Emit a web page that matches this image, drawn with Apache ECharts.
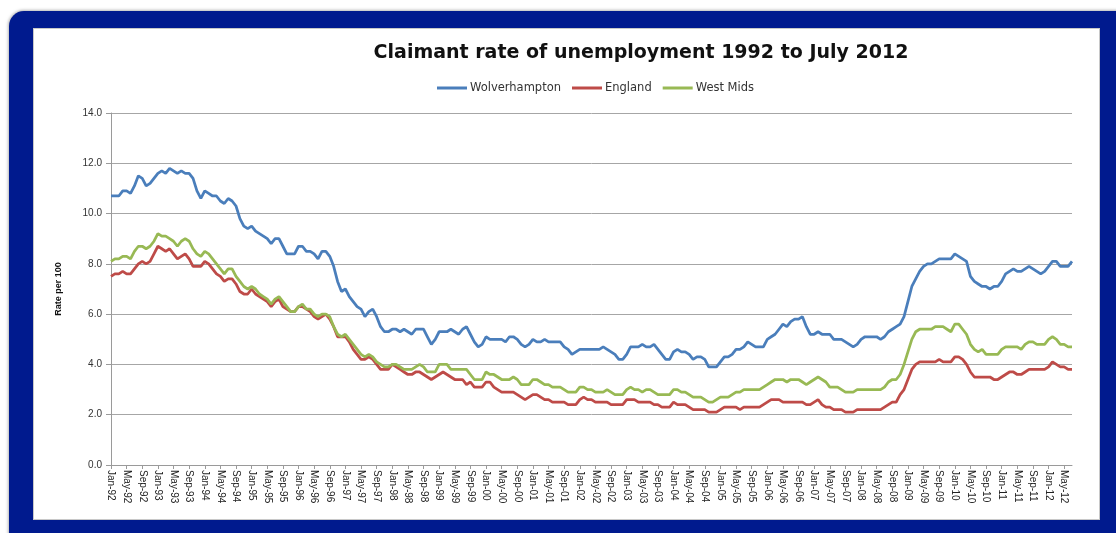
<!DOCTYPE html>
<html>
<head>
<meta charset="utf-8">
<script src="https://cdn.jsdelivr.net/npm/echarts@6/dist/echarts.min.js"></script>
<style>
  html, body { margin: 0; padding: 0; background: #ffffff; width: 1116px; height: 533px; overflow: hidden; }
  #frame {
    position: absolute; left: 9px; top: 11px; width: 1130px; height: 540px;
    background: #001a8e; border-radius: 15px;
    box-shadow: 0 0 3px 1px rgba(120,120,120,0.55);
  }
  #panel {
    position: absolute; left: 33px; top: 28px; width: 1067px; height: 492px;
    background: #ffffff; border: 1px solid #c8c8c8; box-sizing: border-box;
  }
  #chart { position: absolute; left: 0; top: 0; width: 1116px; height: 533px; }
</style>
</head>
<body>
<div id="frame"></div>
<div id="panel"></div>
<div id="chart"></div>
<script>
// Monthly claimant rate (per 100), January 1992 to July 2012
const monthNames = ['Jan','Feb','Mar','Apr','May','Jun','Jul','Aug','Sep','Oct','Nov','Dec'];
const categories = [];
for (let y = 1992; y <= 2012; y++) {
  for (let m = 0; m < 12; m++) {
    if (y === 2012 && m > 6) break;
    categories.push(monthNames[m] + '-' + String(y).slice(2));
  }
}

const yTicks = [0, 2, 4, 6, 8, 10, 12, 14];

const wolverhampton = [
  10.7,10.7,10.7,10.9,10.9,10.8,11.1,11.5,11.4,11.1,11.2,11.4,
  11.6,11.7,11.6,11.8,11.7,11.6,11.7,11.6,11.6,11.4,10.9,10.6,
  10.9,10.8,10.7,10.7,10.5,10.4,10.6,10.5,10.3,9.8,9.5,9.4,
  9.5,9.3,9.2,9.1,9.0,8.8,9.0,9.0,8.7,8.4,8.4,8.4,
  8.7,8.7,8.5,8.5,8.4,8.2,8.5,8.5,8.3,7.9,7.3,6.9,
  7.0,6.7,6.5,6.3,6.2,5.9,6.1,6.2,5.9,5.5,5.3,5.3,
  5.4,5.4,5.3,5.4,5.3,5.2,5.4,5.4,5.4,5.1,4.8,5.0,
  5.3,5.3,5.3,5.4,5.3,5.2,5.4,5.5,5.2,4.9,4.7,4.8,
  5.1,5.0,5.0,5.0,5.0,4.9,5.1,5.1,5.0,4.8,4.7,4.8,
  5.0,4.9,4.9,5.0,4.9,4.9,4.9,4.9,4.7,4.6,4.4,4.5,
  4.6,4.6,4.6,4.6,4.6,4.6,4.7,4.6,4.5,4.4,4.2,4.2,
  4.4,4.7,4.7,4.7,4.8,4.7,4.7,4.8,4.6,4.4,4.2,4.2,
  4.5,4.6,4.5,4.5,4.4,4.2,4.3,4.3,4.2,3.9,3.9,3.9,
  4.1,4.3,4.3,4.4,4.6,4.6,4.7,4.9,4.8,4.7,4.7,4.7,
  5.0,5.1,5.2,5.4,5.6,5.5,5.7,5.8,5.8,5.9,5.5,5.2,
  5.2,5.3,5.2,5.2,5.2,5.0,5.0,5.0,4.9,4.8,4.7,4.8,
  5.0,5.1,5.1,5.1,5.1,5.0,5.1,5.3,5.4,5.5,5.6,5.9,
  6.5,7.1,7.4,7.7,7.9,8.0,8.0,8.1,8.2,8.2,8.2,8.2,
  8.4,8.3,8.2,8.1,7.5,7.3,7.2,7.1,7.1,7.0,7.1,7.1,
  7.3,7.6,7.7,7.8,7.7,7.7,7.8,7.9,7.8,7.7,7.6,7.7,
  7.9,8.1,8.1,7.9,7.9,7.9,8.1
];

const england = [
  7.5,7.6,7.6,7.7,7.6,7.6,7.8,8.0,8.1,8.0,8.1,8.4,
  8.7,8.6,8.5,8.6,8.4,8.2,8.3,8.4,8.2,7.9,7.9,7.9,
  8.1,8.0,7.8,7.6,7.5,7.3,7.4,7.4,7.2,6.9,6.8,6.8,
  7.0,6.8,6.7,6.6,6.5,6.3,6.5,6.6,6.3,6.2,6.1,6.1,
  6.3,6.3,6.2,6.1,5.9,5.8,5.9,6.0,5.8,5.5,5.1,5.1,
  5.1,4.9,4.6,4.4,4.2,4.2,4.3,4.2,4.0,3.8,3.8,3.8,
  4.0,3.9,3.8,3.7,3.6,3.6,3.7,3.7,3.6,3.5,3.4,3.5,
  3.6,3.7,3.6,3.5,3.4,3.4,3.4,3.2,3.3,3.1,3.1,3.1,
  3.3,3.3,3.1,3.0,2.9,2.9,2.9,2.9,2.8,2.7,2.6,2.7,
  2.8,2.8,2.7,2.6,2.6,2.5,2.5,2.5,2.5,2.4,2.4,2.4,
  2.6,2.7,2.6,2.6,2.5,2.5,2.5,2.5,2.4,2.4,2.4,2.4,
  2.6,2.6,2.6,2.5,2.5,2.5,2.5,2.4,2.4,2.3,2.3,2.3,
  2.5,2.4,2.4,2.4,2.3,2.2,2.2,2.2,2.2,2.1,2.1,2.1,
  2.2,2.3,2.3,2.3,2.3,2.2,2.3,2.3,2.3,2.3,2.3,2.4,
  2.5,2.6,2.6,2.6,2.5,2.5,2.5,2.5,2.5,2.5,2.4,2.4,
  2.5,2.6,2.4,2.3,2.3,2.2,2.2,2.2,2.1,2.1,2.1,2.2,
  2.2,2.2,2.2,2.2,2.2,2.2,2.3,2.4,2.5,2.5,2.8,3.0,
  3.4,3.8,4.0,4.1,4.1,4.1,4.1,4.1,4.2,4.1,4.1,4.1,
  4.3,4.3,4.2,4.0,3.7,3.5,3.5,3.5,3.5,3.5,3.4,3.4,
  3.5,3.6,3.7,3.7,3.6,3.6,3.7,3.8,3.8,3.8,3.8,3.8,
  3.9,4.1,4.0,3.9,3.9,3.8,3.8
];

const westMids = [
  8.1,8.2,8.2,8.3,8.3,8.2,8.5,8.7,8.7,8.6,8.7,8.9,
  9.2,9.1,9.1,9.0,8.9,8.7,8.9,9.0,8.9,8.6,8.4,8.3,
  8.5,8.4,8.2,8.0,7.8,7.6,7.8,7.8,7.5,7.3,7.1,7.0,
  7.1,7.0,6.8,6.7,6.6,6.4,6.6,6.7,6.5,6.3,6.1,6.1,
  6.3,6.4,6.2,6.2,6.0,5.9,6.0,6.0,5.9,5.5,5.2,5.1,
  5.2,5.0,4.8,4.6,4.4,4.3,4.4,4.3,4.1,4.0,3.9,3.9,
  4.0,4.0,3.9,3.8,3.8,3.8,3.9,4.0,3.9,3.7,3.7,3.7,
  4.0,4.0,4.0,3.8,3.8,3.8,3.8,3.8,3.6,3.4,3.4,3.4,
  3.7,3.6,3.6,3.5,3.4,3.4,3.4,3.5,3.4,3.2,3.2,3.2,
  3.4,3.4,3.3,3.2,3.2,3.1,3.1,3.1,3.0,2.9,2.9,2.9,
  3.1,3.1,3.0,3.0,2.9,2.9,2.9,3.0,2.9,2.8,2.8,2.8,
  3.0,3.1,3.0,3.0,2.9,3.0,3.0,2.9,2.8,2.8,2.8,2.8,
  3.0,3.0,2.9,2.9,2.8,2.7,2.7,2.7,2.6,2.5,2.5,2.6,
  2.7,2.7,2.7,2.8,2.9,2.9,3.0,3.0,3.0,3.0,3.0,3.1,
  3.2,3.3,3.4,3.4,3.4,3.3,3.4,3.4,3.4,3.3,3.2,3.3,
  3.4,3.5,3.4,3.3,3.1,3.1,3.1,3.0,2.9,2.9,2.9,3.0,
  3.0,3.0,3.0,3.0,3.0,3.0,3.1,3.3,3.4,3.4,3.6,4.0,
  4.5,5.0,5.3,5.4,5.4,5.4,5.4,5.5,5.5,5.5,5.4,5.3,
  5.6,5.6,5.4,5.2,4.8,4.6,4.5,4.6,4.4,4.4,4.4,4.4,
  4.6,4.7,4.7,4.7,4.7,4.6,4.8,4.9,4.9,4.8,4.8,4.8,
  5.0,5.1,5.0,4.8,4.8,4.7,4.7
];

const seriesNames = ['Wolverhampton', 'England', 'West Mids'];
const seriesColors = ['#4a7ebb', '#be4b48', '#98b954'];
const seriesData = [wolverhampton, england, westMids];

const chart = echarts.init(document.getElementById('chart'), null, { renderer: 'canvas' });

const baseFont = 'Liberation Sans, Arial, sans-serif';

chart.setOption({
  animation: false,
  title: {
    text: 'Claimant rate of unemployment 1992 to July 2012',
    left: 636,
    textAlign: 'center',
    top: 39,
    textStyle: { fontFamily: 'DejaVu Sans, sans-serif', fontWeight: 'bold', fontSize: 19, color: '#111111' }
  },
  legend: {
    top: 77,
    left: 432,
    data: seriesNames,
    icon: 'rect',
    itemWidth: 30,
    itemHeight: 3,
    itemGap: 11,
    textStyle: { fontFamily: 'DejaVu Sans, sans-serif', fontSize: 11.5, color: '#333333', padding: [0, 0, 0, -2] }
  },
  grid: { left: 111, right: 44, top: 113, bottom: 68, containLabel: false },
  xAxis: {
    type: 'category',
    data: categories,
    boundaryGap: false,
    axisLine: { lineStyle: { color: '#9a9a9a', width: 1 } },
    axisTick: { show: true, interval: 3, length: 4, lineStyle: { color: '#9a9a9a' } },
    axisLabel: {
      interval: 3, rotate: -90, margin: 5,
      fontFamily: baseFont, fontSize: 10, color: '#222222'
    },
    splitLine: { show: false }
  },
  yAxis: {
    type: 'value',
    min: yTicks[0],
    max: yTicks[yTicks.length - 1],
    interval: 2,
    name: 'Rate per 100',
    nameLocation: 'middle',
    nameGap: 48,
    nameRotate: 90,
    nameTextStyle: { fontFamily: baseFont, fontWeight: 'bold', fontSize: 9, color: '#111111' },
    axisLine: { show: true, lineStyle: { color: '#9a9a9a', width: 1 } },
    axisTick: { show: true, length: 5, lineStyle: { color: '#9a9a9a' } },
    axisLabel: {
      margin: 9, fontFamily: baseFont, fontSize: 10, color: '#333333',
      formatter: v => v.toFixed(1)
    },
    splitLine: { show: true, lineStyle: { color: '#a6a6a6', width: 1 } }
  },
  series: seriesNames.map((name, i) => ({
    name: name,
    type: 'line',
    data: seriesData[i],
    showSymbol: false,
    symbol: 'none',
    smooth: false,
    lineStyle: { color: seriesColors[i], width: 2.75 },
    itemStyle: { color: seriesColors[i] }
  }))
});
</script>
</body>
</html>
